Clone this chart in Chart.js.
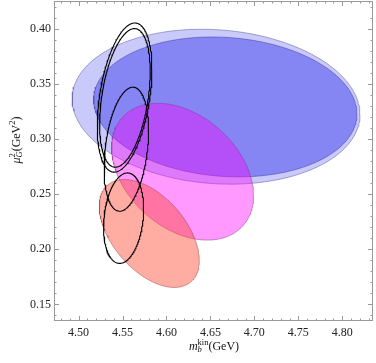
<!DOCTYPE html>
<html lang="en">
<head>
  <meta charset="UTF-8" />
  <title>mb kin vs muG2</title>
  <script src="https://cdn.jsdelivr.net/npm/chart.js"></script>
  <style>
    html, body { margin: 0; padding: 0; background: #fff; }
    #wrap { width: 376px; height: 363px; position: relative; }
  </style>
</head>
<body>
  <div id="wrap"><canvas id="chart"></canvas></div>
  <script>
    // ellipse parameters: centre, half extents, correlation
    const regionNames = ['blue wide', 'blue', 'magenta', 'red', 'black 1', 'black 2', 'black 3', 'black 4'];
    const centerX = [4.6564, 4.6669, 4.6183, 4.5804, 4.5523, 4.5527, 4.5543, 4.5512];
    const centerY = [0.3292, 0.3290, 0.2703, 0.2143, 0.3375, 0.3372, 0.2907, 0.2282];
    const sigmaX  = [0.1638, 0.1498, 0.0808, 0.0569, 0.0311, 0.0288, 0.0253, 0.0228];
    const sigmaY  = [0.0702, 0.0634, 0.0620, 0.0489, 0.0676, 0.0628, 0.0562, 0.0410];
    const correlation = [-0.10, -0.10, -0.35, -0.50, 0.38, 0.38, 0.30, 0.20];

    const xTickValues = [4.50, 4.55, 4.60, 4.65, 4.70, 4.75, 4.80];
    const yTickValues = [0.15, 0.20, 0.25, 0.30, 0.35, 0.40];

    const fills = ['rgba(100,100,240,0.35)', 'rgba(70,70,238,0.52)', 'rgba(255,0,255,0.4)', 'rgba(255,70,50,0.45)'];
    const edges = ['rgba(70,70,150,0.45)', 'rgba(50,50,140,0.45)', 'rgba(130,50,130,0.45)', 'rgba(140,60,60,0.45)'];

    const FONT = '"Liberation Serif", "DejaVu Serif", serif';

    function outline(i) {
      const pts = [];
      const n = 200;
      const r = correlation[i];
      for (let k = 0; k <= n; k++) {
        const t = 2 * Math.PI * k / n;
        pts.push({
          x: centerX[i] + sigmaX[i] * Math.cos(t),
          y: centerY[i] + sigmaY[i] * (r * Math.cos(t) + Math.sqrt(1 - r * r) * Math.sin(t))
        });
      }
      return pts;
    }

    const datasets = regionNames.map((name, i) => {
      const filled = i < 4;
      return {
        label: name,
        data: outline(i),
        showLine: true,
        pointRadius: 0,
        tension: 0,
        borderWidth: filled ? 1 : 1.1,
        borderColor: filled ? edges[i] : '#000',
        backgroundColor: filled ? fills[i] : 'transparent',
        fill: filled ? 'shape' : false,
        order: filled ? 10 - i : 0
      };
    });

    function drawRich(ctx, segs, x, y, angle) {
      ctx.save();
      ctx.translate(x, y);
      ctx.rotate(angle);
      let cur = 0, lastStart = 0, lastW = 0;
      segs.forEach(s => {
        ctx.font = s.font;
        const w = ctx.measureText(s.t).width;
        if (s.stack) {
          s.x = lastStart;
          cur = Math.max(lastStart + lastW, lastStart + w);
        } else {
          s.x = cur;
          lastStart = cur;
          lastW = w;
          cur += w;
        }
      });
      ctx.fillStyle = '#111';
      ctx.textBaseline = 'alphabetic';
      ctx.textAlign = 'left';
      segs.forEach(s => {
        ctx.font = s.font;
        ctx.fillText(s.t, s.x - cur / 2, s.dy || 0);
      });
      ctx.restore();
    }

    const frame = {
      id: 'frame',
      afterDraw(chart) {
        const { ctx, chartArea: a, scales: { x, y } } = chart;
        ctx.save();
        ctx.strokeStyle = '#999';
        ctx.lineWidth = 1;
        ctx.beginPath();
        for (let k = 448; k <= 483; k++) {
          const px = Math.round(x.getPixelForValue(k / 100)) + 0.5;
          const len = k % 5 === 0 ? 5 : 2.5;
          ctx.moveTo(px, a.bottom); ctx.lineTo(px, a.bottom - len);
          ctx.moveTo(px, a.top); ctx.lineTo(px, a.top + len);
        }
        for (let k = 14; k <= 42; k++) {
          const py = Math.round(y.getPixelForValue(k / 100)) + 0.5;
          const len = k % 5 === 0 ? 5 : 2.5;
          ctx.moveTo(a.left, py); ctx.lineTo(a.left + len, py);
          ctx.moveTo(a.right, py); ctx.lineTo(a.right - len, py);
        }
        ctx.stroke();
        ctx.strokeRect(Math.round(a.left) + 0.5, Math.round(a.top) + 0.5,
          Math.round(a.right - a.left) - 1, Math.round(a.bottom - a.top) - 1);
        ctx.restore();

        const big = 'italic 12px ' + FONT, reg = '12px ' + FONT;
        const smI = 'italic 8.5px ' + FONT, sm = '8.5px ' + FONT;
        drawRich(ctx, [
          { t: 'm', font: big },
          { t: 'b', font: smI, dy: 2 },
          { t: 'kin', font: sm, dy: -5, stack: true },
          { t: '(GeV)', font: reg }
        ], 214, 350, 0);
        drawRich(ctx, [
          { t: 'μ', font: big },
          { t: 'G', font: smI, dy: 2 },
          { t: '2', font: sm, dy: -5, stack: true },
          { t: '(GeV', font: reg },
          { t: '2', font: sm, dy: -5 },
          { t: ')', font: reg }
        ], 20, 140, -Math.PI / 2);
      }
    };

    new Chart(document.getElementById('chart'), {
      type: 'scatter',
      data: { datasets },
      options: {
        responsive: true,
        maintainAspectRatio: false,
        animation: false,
        layout: { padding: { top: 1, right: 3, left: 0, bottom: 0 } },
        plugins: { legend: { display: false }, tooltip: { enabled: false } },
        scales: {
          x: {
            type: 'linear',
            min: 4.472, max: 4.835,
            grid: { display: false, drawTicks: false },
            border: { display: false },
            afterBuildTicks: s => { s.ticks = xTickValues.map(v => ({ value: v })); },
            afterFit: s => { s.height = 42; s.paddingLeft = 0; s.paddingRight = 0; },
            ticks: {
              padding: 5,
              color: '#222',
              font: { family: FONT, size: 12 },
              maxRotation: 0,
              callback: v => v.toFixed(2)
            }
          },
          y: {
            type: 'linear',
            min: 0.135, max: 0.425,
            grid: { display: false, drawTicks: false },
            border: { display: false },
            afterBuildTicks: s => { s.ticks = yTickValues.map(v => ({ value: v })); },
            afterFit: s => { s.width = 54; s.paddingTop = 0; s.paddingBottom = 0; },
            ticks: {
              padding: 3,
              color: '#222',
              font: { family: FONT, size: 12 },
              callback: v => v.toFixed(2)
            }
          }
        }
      },
      plugins: [frame]
    });
  </script>
</body>
</html>
